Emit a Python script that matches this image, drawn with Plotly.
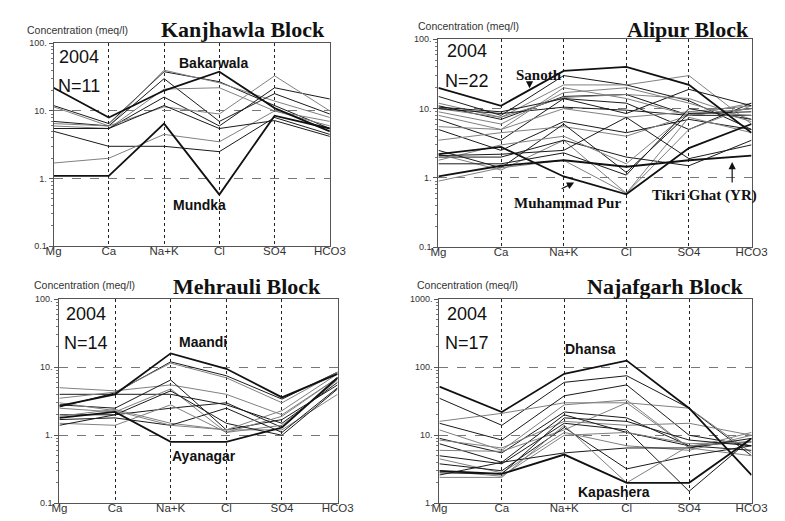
import plotly.graph_objects as go

# Ion order along the x axis of every Schoeller diagram
ions = ["Mg", "Ca", "Na+K", "Cl", "SO4", "HCO3"]

# ---- Kanjhawla Block (2004, N=11), meq/l ----
kanjhawla_bakarwala = [22, 8, 20, 38, 11, 5]
kanjhawla_mundka = [1.1, 1.1, 6.5, 0.58, 8.5, 5.5]
kanjhawla_others = [
    [12, 6.5, 38, 27, 12, 5.5],
    [11.5, 6, 40, 26, 14, 8],
    [7, 6, 30, 7, 18, 9],
    [6, 5.5, 21, 22, 10, 7],
    [5.5, 5.5, 16, 6, 22, 15],
    [6.5, 6, 11.5, 9, 33, 10],
    [5, 3, 3, 2.5, 8, 4.5],
    [1.7, 2, 4.5, 3.5, 10, 6],
    [5.5, 5.5, 12, 5.5, 7.2, 4.2],
]

# ---- Alipur Block (2004, N=22) ----
alipur_sanoth = [20, 11, 35, 40, 22, 4.5]
alipur_muhammadpur = [2.2, 2.8, 1.05, 0.58, 2.7, 6]
alipur_tikrighat = [1.05, 1.5, 1.8, 1.45, 1.8, 2.1]
alipur_others = [
    [15, 8, 30, 22, 13, 5],
    [12, 7.5, 22, 22, 30, 6],
    [11, 7, 15, 16, 8, 10],
    [10, 7.5, 14.5, 16, 14, 7],
    [10, 8.5, 10.5, 9.5, 8, 8],
    [8, 5, 20, 14, 8, 12],
    [7, 3.5, 14, 12, 5, 12],
    [5.5, 5, 10, 7.5, 9, 11],
    [5, 2.5, 6.5, 4.5, 7, 5],
    [3.5, 4.5, 5.5, 4, 8, 10],
    [2.5, 1.4, 6, 1.2, 8.5, 9],
    [2.2, 1.3, 3.5, 0.6, 7.5, 4.5],
    [2, 2, 3.5, 2, 1.5, 3.5],
    [1.8, 3, 4, 1.6, 9, 8],
    [1.6, 1.6, 2.3, 1.1, 10, 7],
    [0.9, 1.4, 1.8, 0.6, 5, 11],
    [10.5, 9, 14, 8.5, 19, 11],
    [9, 6, 17, 20, 12, 6.5],
    [2.1, 2.2, 2.5, 7.5, 1.9, 3],
]

# ---- Mehrauli Block (2004, N=14) ----
mehrauli_maandi = [2.7, 4, 16, 9.5, 3.6, 8]
mehrauli_ayanagar = [1.8, 2.2, 0.8, 0.8, 1.3, 7]
mehrauli_others = [
    [2.6, 4.2, 12, 7.5, 3.4, 8.5],
    [5, 4.5, 5.5, 4, 2, 7],
    [4, 4, 4, 2.8, 1.5, 6],
    [3.5, 4.3, 11.5, 7, 3, 8.5],
    [2.8, 2.5, 6.5, 1.2, 1.7, 5.5],
    [2.5, 2.2, 4.8, 1.1, 1.9, 7],
    [2, 2, 2.5, 3, 1.3, 7],
    [1.9, 2.4, 1.5, 1.2, 1.2, 4],
    [1.7, 1.8, 1.4, 2.5, 1.1, 5],
    [1.5, 1.4, 2.8, 1.1, 1.4, 6.5],
    [1.4, 2.0, 4.5, 1.5, 1.0, 4.8],
    [3, 2.3, 1.4, 1.2, 2.3, 8],
]

# ---- Najafgarh Block (2004, N=17) ----
najafgarh_dhansa = [52, 22, 80, 125, 25, 2.6]
najafgarh_kapashera = [3, 2.7, 5.2, 2, 2, 9]
najafgarh_others = [
    [35, 14, 60, 75, 25, 5],
    [16, 21, 30, 30, 25, 5.5],
    [15, 8.5, 38, 55, 10, 7],
    [12, 6, 28, 33, 6.5, 11],
    [9, 5.5, 22, 18, 7, 6],
    [8.5, 6.5, 16, 14, 15, 10],
    [7.5, 4, 20, 11, 7, 8],
    [6, 5.8, 12, 30, 6.5, 5],
    [5, 3.8, 15, 12, 1.5, 9],
    [4.5, 2.8, 11, 7, 6, 10],
    [3.8, 3, 13, 3.2, 5, 7],
    [3, 2.5, 10, 11, 7.5, 8],
    [2.6, 4, 5.5, 6.5, 6.5, 9],
    [2.4, 2.4, 14, 2, 7, 8],
    [2.8, 2.7, 18, 16, 8.5, 7],
]

W, H = 785, 521


def px(x):
    return x / W


def py(y):
    return 1 - y / H


SANS = "Liberation Sans, Arial, sans-serif"
SERIF = "Liberation Serif, Times New Roman, serif"

fig = go.Figure()

panels = [
    # (axis suffix, x0, x1, ytop, ybottom, log range, tick values, highlighted, others)
    ("", 47, 332, 39, 246, [-1, 2], [0.1, 1, 10, 100],
     [kanjhawla_bakarwala, kanjhawla_mundka], kanjhawla_others),
    ("2", 444, 767, 35, 247, [-1, 2], [0.1, 1, 10, 100],
     [alipur_sanoth, alipur_muhammadpur, alipur_tikrighat], alipur_others),
    ("3", 53, 340, 300, 508, [-1, 2], [0.1, 1, 10, 100],
     [mehrauli_maandi, mehrauli_ayanagar], mehrauli_others),
    ("4", 445, 767, 300, 508, [0, 3], [1, 10, 100, 1000],
     [najafgarh_dhansa, najafgarh_kapashera], najafgarh_others),
]

xpos = list(range(len(ions)))

for suf, x0, x1, yt, yb, yr, tv, bold, thin in panels:
    xa, ya = "x" + suf, "y" + suf
    for i, s in enumerate(thin):
        fig.add_trace(go.Scatter(
            x=xpos, y=s, mode="lines", xaxis=xa, yaxis=ya,
            line=dict(color="#1a1a1a" if i % 2 == 0 else "#808080", width=1),
            hoverinfo="skip", showlegend=False))
    for s in bold:
        fig.add_trace(go.Scatter(
            x=xpos, y=s, mode="lines", xaxis=xa, yaxis=ya,
            line=dict(color="#111111", width=1.8),
            hoverinfo="skip", showlegend=False))

    ticktext = [("%g" % v) if v < 1 else ("%g." % v) for v in tv]
    fig.update_layout(**{
        "xaxis" + suf: dict(
            domain=[px(x0), px(x1)], range=[0, 5], anchor=ya,
            tickmode="array", tickvals=xpos, ticktext=ions,
            ticks="", ticklabelstandoff=-6,
            showgrid=True, gridcolor="#222222", griddash="dot",
            gridwidth=1, zeroline=False, showline=True, mirror=True,
            linecolor="#555555", linewidth=1,
            tickfont=dict(family=SANS, size=11.5, color="#333333"),
        ),
        "yaxis" + suf: dict(
            domain=[py(yb), py(yt)], type="log", range=yr, anchor=xa,
            tickmode="array", tickvals=tv, ticktext=ticktext,
            ticks="outside", ticklen=4, tickcolor="#555555",
            showgrid=True, gridcolor="#777777", griddash="dash", gridwidth=1,
            zeroline=False, showline=True, mirror=True,
            linecolor="#555555", linewidth=1,
            tickfont=dict(family=SANS, size=9, color="#333333"),
            minor=dict(ticks="outside", ticklen=2, tickcolor="#777777",
                       showgrid=False, dtick="D1"),
        ),
    })

ann = []


def text(x, y, t, font, size, color="#111111", bold=False):
    ann.append(dict(
        x=px(x), y=py(y), xref="paper", yref="paper", text=("<b>%s</b>" % t) if bold else t,
        showarrow=False, xanchor="center", yanchor="middle",
        font=dict(family=font, size=size, color=color)))


def arrow(x, y, dx, dy):
    ann.append(dict(
        x=px(x), y=py(y), xref="paper", yref="paper", text="", showarrow=True,
        ax=dx, ay=dy, axref="pixel", ayref="pixel", arrowhead=2, arrowsize=1.2,
        arrowwidth=1.2, arrowcolor="#111111"))


# block titles
text(242, 25, "Kanjhawla Block", SERIF, 22, bold=True)
text(701, 25, "Alipur Block", SERIF, 22, bold=True)
text(247, 287, "Mehrauli Block", SERIF, 22, bold=True)
text(678, 287, "Najafgarh Block", SERIF, 22, bold=True)

# axis unit captions
for cx, cy in [(72, 25), (475, 21), (79, 285), (474, 285)]:
    text(cx, cy, "Concentration (meq/l)", SANS, 10.5, color="#333333")

# year and sample count
for x, y1, y2, n in [(73, 53, 83, 11), (473, 47, 77, 22), (80, 315, 345, 14), (473, 315, 345, 17)]:
    text(x, y1, "2004", SANS, 18)
    text(x, y2, "N=%d" % n, SANS, 18)

# sample labels
text(212, 59, "Bakarwala", SANS, 14, bold=True)
text(198, 204, "Mundka", SANS, 14, bold=True)
text(548, 71, "Sanoth", SERIF, 15, bold=True)
text(577, 202, "Muhammad Pur", SERIF, 15, bold=True)
text(718, 194, "Tikri Ghat (YR)", SERIF, 15, bold=True)
text(201, 344, "Maandi", SANS, 14, bold=True)
text(202, 460, "Ayanagar", SANS, 14, bold=True)
text(601, 351, "Dhansa", SANS, 14, bold=True)
text(625, 497, "Kapashera", SANS, 14, bold=True)

arrow(538, 85, 0, -8)
arrow(584, 181, -14, 7)
arrow(747, 160, 0, 22)

fig.update_layout(
    width=W, height=H, margin=dict(l=0, r=0, t=0, b=0),
    paper_bgcolor="white", plot_bgcolor="white",
    annotations=ann, showlegend=False,
)

fig.write_html("out.html")
